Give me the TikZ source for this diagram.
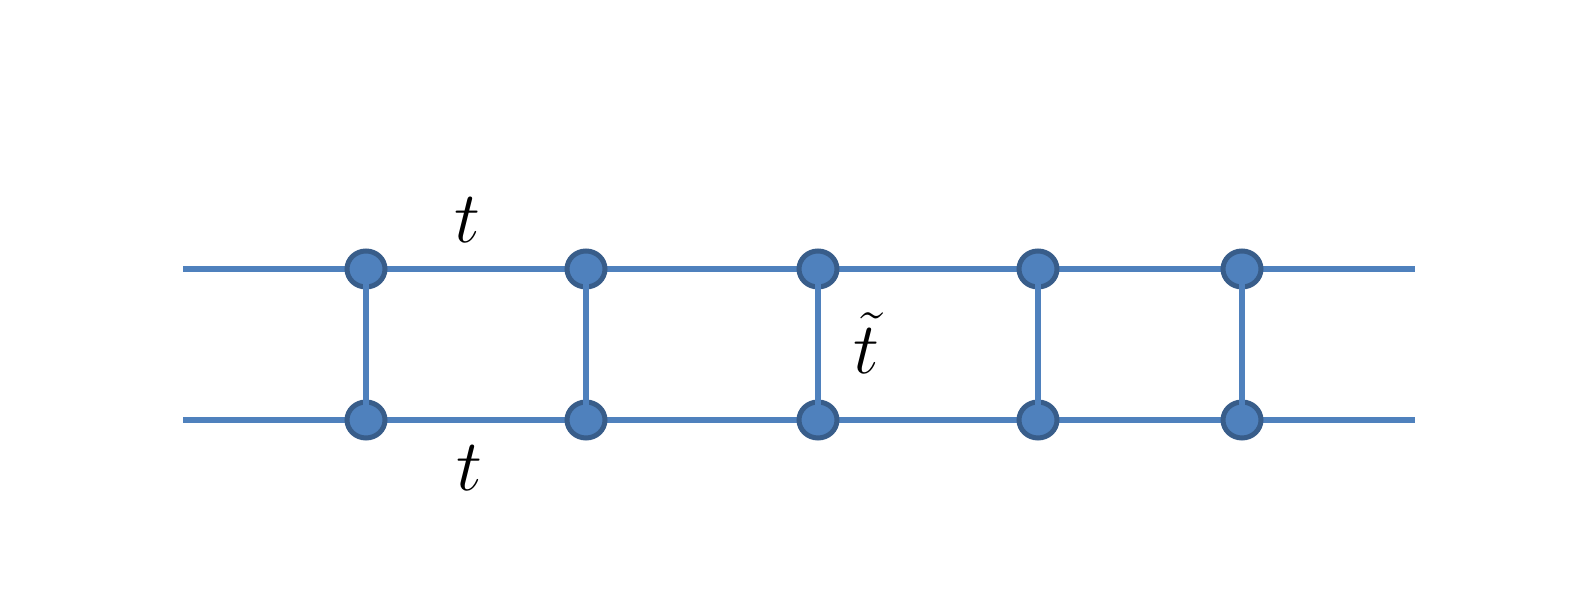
\documentclass[tikz,border=0pt]{standalone}
\usepackage{amsmath}
\usetikzlibrary{calc,positioning,shapes}
\definecolor{lineblue}{RGB}{79,129,189}
\definecolor{rimblue}{RGB}{56,93,138}
\begin{document}
\begin{tikzpicture}[ele/.style={ellipse,draw=rimblue,fill=lineblue,line width=0.05cm,minimum width=0.38cm,minimum height=0.36cm,inner sep=0pt},bond/.style={lineblue,line width=0.06cm},rung/.style={lineblue,line width=0.065cm},lbl/.style={font=\fontsize{21}{26}\selectfont}]
                      \useasboundingbox (0,0) rectangle (15.78,5.92);
                      \coordinate (l1) at (1.83,3.23);
                      \coordinate (r1) at (14.15,3.23);
                      \coordinate (l2) at (1.83,1.72);
                      \coordinate (r2) at (14.15,1.72);
                      \draw[bond] (l1) -- (r1);
                      \draw[bond] (l2) -- (r2);

                      \node[ele] (a1) at (3.66,3.23) {};
                      \node[ele] (a2) at (5.86,3.23) {};
                      \node[ele] (a3) at (8.18,3.23) {};
                      \node[ele] (a4) at (10.38,3.23) {};
                      \node[ele] (a5) at (12.42,3.23) {};

                      \node[ele] (b1) at (3.66,1.72) {};
                      \node[ele] (b2) at (5.86,1.72) {};
                      \node[ele] (b3) at (8.18,1.72) {};
                      \node[ele] (b4) at (10.38,1.72) {};
                      \node[ele] (b5) at (12.42,1.72) {};

                      \draw[rung] (a1.center) -- (b1.center);
                      \draw[rung] (a2.center) -- (b2.center);
                      \draw[rung] (a3.center) -- (b3.center);
                      \draw[rung] (a4.center) -- (b4.center);
                      \draw[rung] (a5.center) -- (b5.center);

                      \node[lbl] (tt) at (4.67,3.72) {$t$};
                      \node[lbl] (tb) at (4.69,1.24) {$t$};
                      \node[lbl] (tr) at (8.66,2.49) {$\tilde{t}$};
                    \end{tikzpicture}
\end{document}
